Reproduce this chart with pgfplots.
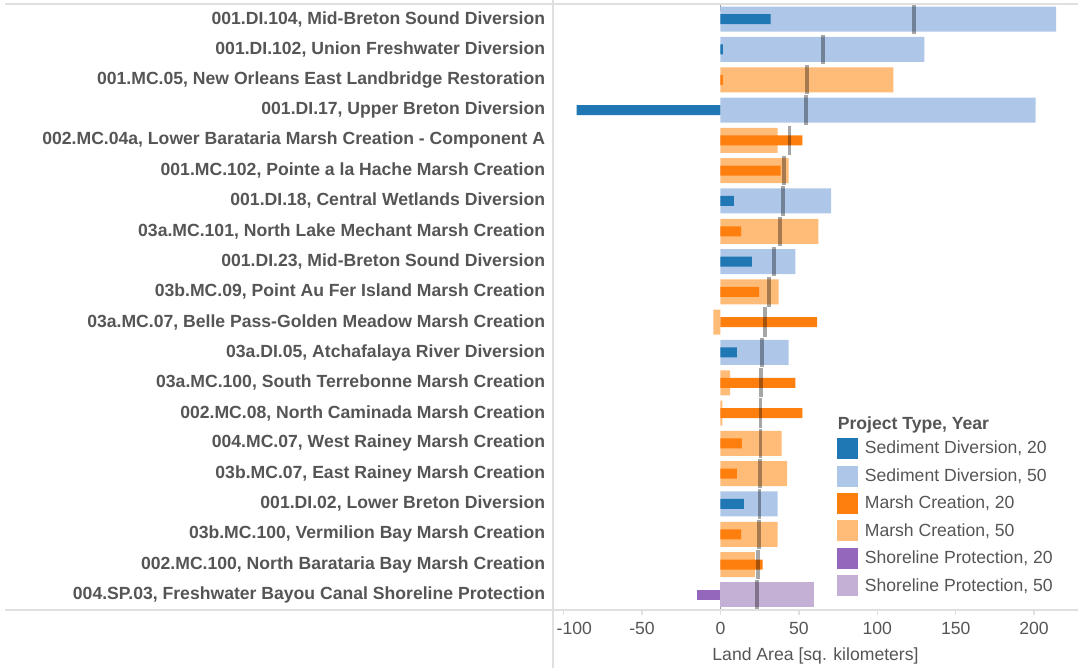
\documentclass[border=0pt]{standalone}
\usepackage{pgfplots}
\pgfplotsset{compat=1.18}
\usepackage{fontspec}
\setmainfont{Liberation Sans}
\definecolor{sdA}{HTML}{1F77B4}
\definecolor{sdB}{HTML}{AEC7E8}
\definecolor{mcA}{HTML}{FF7F0E}
\definecolor{mcB}{HTML}{FFBB78}
\definecolor{spA}{HTML}{9467BD}
\definecolor{spB}{HTML}{C5B0D5}
\definecolor{txt}{HTML}{555555}
\definecolor{rulec}{HTML}{E0E0E0}
\newcommand{\lblfont}{\fontsize{13.2}{15}\selectfont}
\begin{document}
\begin{tikzpicture}
\path[use as bounding box] (0pt,0pt) rectangle (808.5pt,501pt);
\begin{axis}[
  at={(414.75pt,43.5pt)}, anchor=south west,
  scale only axis, width=393.75pt, height=454.5pt,
  xmin=-106.8, xmax=228, ymin=0.5, ymax=20.5, y dir=reverse,
  axis line style={draw=none},
  xtick={-100,-50,0,50,100,150,200},
  xticklabels={{\rlap{\hspace{-5.25pt}-100}},-50,0,50,100,150,200},
  ytick={1,...,20},
  yticklabels={
    {001.DI.104, Mid-Breton Sound Diversion},
    {001.DI.102, Union Freshwater Diversion},
    {001.MC.05, New Orleans East Landbridge Restoration},
    {001.DI.17, Upper Breton Diversion},
    {002.MC.04a, Lower Barataria Marsh Creation - Component A},
    {001.MC.102, Pointe a la Hache Marsh Creation},
    {001.DI.18, Central Wetlands Diversion},
    {03a.MC.101, North Lake Mechant Marsh Creation},
    {001.DI.23, Mid-Breton Sound Diversion},
    {03b.MC.09, Point Au Fer Island Marsh Creation},
    {03a.MC.07, Belle Pass-Golden Meadow Marsh Creation},
    {03a.DI.05, Atchafalaya River Diversion},
    {03a.MC.100, South Terrebonne Marsh Creation},
    {002.MC.08, North Caminada Marsh Creation},
    {004.MC.07, West Rainey Marsh Creation},
    {03b.MC.07, East Rainey Marsh Creation},
    {001.DI.02, Lower Breton Diversion},
    {03b.MC.100, Vermilion Bay Marsh Creation},
    {002.MC.100, North Barataria Bay Marsh Creation},
    {004.SP.03, Freshwater Bayou Canal Shoreline Protection}},
  xtick pos=bottom, ytick pos=left,
  tick align=outside, major tick length=3.75pt,
  xtick style={draw=rulec, line width=1pt},
  ytick style={draw=none},
  xticklabel style={font=\lblfont, text=txt, inner sep=0pt, anchor=north, yshift=-5.5pt},
  yticklabel style={font=\lblfont\bfseries, text=txt, inner sep=0pt, anchor=east, xshift=-2pt},
  xlabel={Land Area [sq. kilometers]},
  xlabel style={font=\lblfont, text=txt, at={(axis description cs:0.5,0)}, anchor=center, yshift=-34.5pt},
  xbar, bar shift=0pt,
  legend style={at={(0.5333,0.333)}, anchor=north west, draw=none, fill=none,
    font=\lblfont, text=txt, row sep=5.2pt, column sep=5.3pt,
    nodes={inner sep=0pt, minimum height=15pt}},
  legend cell align=left,
  legend image code/.code={\fill[#1] (0pt,-7.5pt) rectangle (15pt,7.5pt);},
]
\addplot[xbar=false, draw=gray!80, densely dotted, line width=1pt, forget plot] coordinates {(0,0.5) (0,20.5)};
% 50-year bars
\addplot[fill=sdB, draw=none, bar width=18.75pt, forget plot] coordinates {
  (214,1) (130,2) (201,4) (70.5,7) (47.7,9) (43.5,12) (36.5,17)};
\addplot[fill=mcB, draw=none, bar width=18.75pt, forget plot] coordinates {
  (110.2,3) (36.5,5) (43.5,6) (62.4,8) (37.1,10) (-4.6,11) (6.1,13) (1.2,14) (39,15) (42.5,16) (36.5,18) (22,19)};
\addplot[fill=spB, draw=none, bar width=18.75pt, forget plot] coordinates {(59.8,20)};
% 20-year bars
\addplot[fill=sdA, draw=none, bar width=7.5pt, forget plot] coordinates {
  (32,1) (1.5,2) (-91.7,4) (8.6,7) (20.1,9) (10.5,12) (15,17)};
\addplot[fill=mcA, draw=none, bar width=7.5pt, forget plot] coordinates {
  (1.5,3) (52.2,5) (38.4,6) (13.1,8) (24.6,10) (61.7,11) (47.7,13) (52.2,14) (13.7,15) (10.5,16) (13.1,18) (26.9,19)};
\addplot[fill=spA, draw=none, bar width=7.5pt, forget plot] coordinates {(-14.8,20)};
% average markers
\addplot[xbar=false, only marks, mark=|, mark size=11pt,
  mark options={draw=black, draw opacity=0.35, line width=2.8pt}, forget plot] coordinates {
  (123.6,1) (65.4,2) (55.4,3) (54.5,4) (44.1,5) (40.7,6) (39.9,7) (37.9,8) (33.9,9) (31.1,10)
  (28.4,11) (26.7,12) (26,13) (25.6,14) (25.6,15) (25.4,16) (24.9,17) (24.7,18) (24.1,19) (23.5,20)};
\addlegendimage{empty legend}
\addlegendentry{\hspace{-20.3pt}\raisebox{-7.3pt}[0pt][0pt]{\textbf{Project Type, Year}}}
\addlegendimage{sdA}\addlegendentry{Sediment Diversion, 20}
\addlegendimage{sdB}\addlegendentry{Sediment Diversion, 50}
\addlegendimage{mcA}\addlegendentry{Marsh Creation, 20}
\addlegendimage{mcB}\addlegendentry{Marsh Creation, 50}
\addlegendimage{spA}\addlegendentry{Shoreline Protection, 20}
\addlegendimage{spB}\addlegendentry{Shoreline Protection, 50}
\end{axis}
\draw[rulec, line width=1.5pt] (4pt,498pt) -- (808.5pt,498pt);
\draw[rulec, line width=1.5pt] (4pt,43.5pt) -- (808.5pt,43.5pt);
\draw[rulec, line width=1.5pt] (414.75pt,0pt) -- (414.75pt,501pt);
\end{tikzpicture}
\end{document}
